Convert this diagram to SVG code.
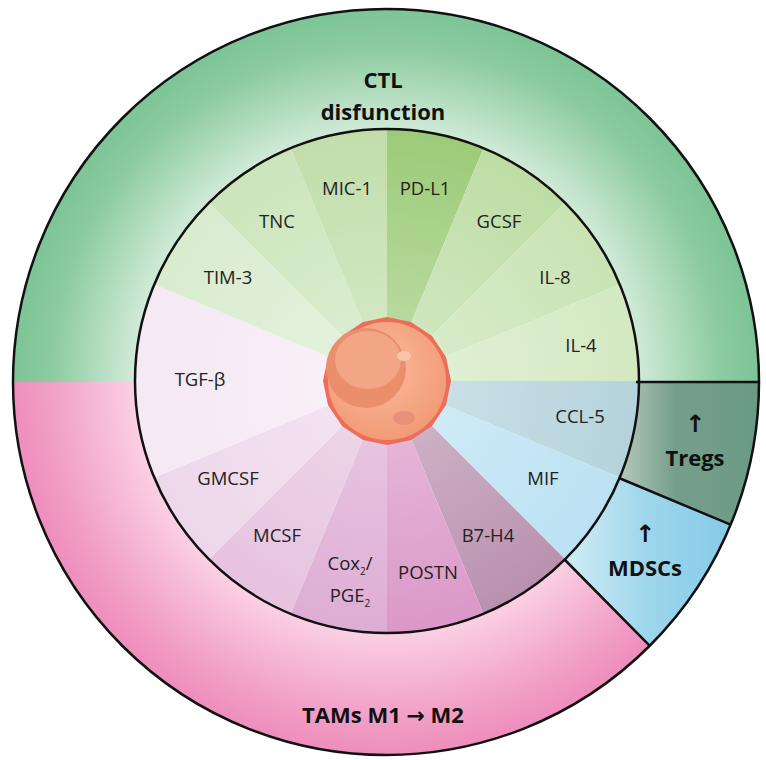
<svg xmlns="http://www.w3.org/2000/svg" width="766" height="760" viewBox="0 0 766 760">
<defs>
<radialGradient id="gG" cx="386" cy="382" r="373" gradientUnits="userSpaceOnUse"><stop offset="0.67" stop-color="#d2ebd9"/><stop offset="0.9" stop-color="#8ccb9f"/><stop offset="1" stop-color="#7cc496"/></radialGradient>
<radialGradient id="gP" cx="386" cy="382" r="373" gradientUnits="userSpaceOnUse"><stop offset="0.67" stop-color="#fbd0e4"/><stop offset="0.9" stop-color="#f19fc6"/><stop offset="1" stop-color="#ee8dbc"/></radialGradient>
<linearGradient id="gT" x1="0" y1="0" x2="1" y2="0"><stop offset="0" stop-color="#b7c8bb"/><stop offset="0.4" stop-color="#759f8c"/><stop offset="1" stop-color="#6a9a85"/></linearGradient>
<linearGradient id="gM" x1="0" y1="0" x2="1" y2="0"><stop offset="0" stop-color="#d2ecf5"/><stop offset="0.5" stop-color="#9dd6ec"/><stop offset="1" stop-color="#86cbe6"/></linearGradient>
<radialGradient id="hi" cx="387" cy="381" r="252" gradientUnits="userSpaceOnUse"><stop offset="0.2" stop-color="#fff" stop-opacity="0.3"/><stop offset="1" stop-color="#fff" stop-opacity="0"/></radialGradient>
<radialGradient id="cell" cx="0.45" cy="0.4" r="0.6"><stop offset="0" stop-color="#f9bb9c"/><stop offset="1" stop-color="#f39b77"/></radialGradient>
</defs>
<style>
.l{font-family:"Open Sans","Liberation Sans",sans-serif;font-size:18.5px;fill:#222;text-anchor:middle}
.t{font-family:"Open Sans","Liberation Sans",sans-serif;font-size:22px;font-weight:bold;fill:#111;text-anchor:middle}
.a{font-family:"DejaVu Sans",sans-serif;font-size:24px;font-weight:bold;fill:#111;text-anchor:middle}
.s{stroke:#111;stroke-width:2.5;fill:none}
</style>
<g id="outer-ring">
<path d="M13,382 A373,373 0 0 1 759,382 L639,382 A252,252 0 0 0 135,382 Z" fill="url(#gG)"/>
<path id="tams" d="M13,382 A373,373 0 0 0 649.8,645.8 L565.2,560.2 A252,252 0 0 1 135,382 Z" fill="url(#gP)"/>
<path id="tregs" d="M759,382 A373,373 0 0 1 730.6,524.7 L618.8,478.4 A252,252 0 0 0 639,382 Z" fill="url(#gT)"/>
<path id="mdscs" d="M730.6,524.7 A373,373 0 0 1 649.8,645.8 L564.2,560.2 A252,252 0 0 0 618.8,478.4 Z" fill="url(#gM)"/>
</g>
<g id="wedges">
<path d="M387,381 L387,129 A252,252 0 0 1 483.4,148.2 Z" fill="#9ccb78"/>
<path d="M387,381 L483.4,148.2 A252,252 0 0 1 565.2,202.8 Z" fill="#bedda5"/>
<path d="M387,381 L565.2,202.8 A252,252 0 0 1 619.8,284.6 Z" fill="#c9e3b4"/>
<path d="M387,381 L619.8,284.6 A252,252 0 0 1 639,381 Z" fill="#d3e9c2"/>
<path d="M387,381 L639,381 A252,252 0 0 1 619.8,477.4 Z" fill="#b5d3dc"/>
<path d="M387,381 L619.8,477.4 A252,252 0 0 1 565.2,559.2 Z" fill="#bbe2f3"/>
<path d="M387,381 L565.2,559.2 A252,252 0 0 1 483.4,613.8 Z" fill="#b991af"/>
<path d="M387,381 L483.4,613.8 A252,252 0 0 1 387,633 Z" fill="#db98c8"/>
<path d="M387,381 L387,633 A252,252 0 0 1 290.6,613.8 Z" fill="#deadd5"/>
<path d="M387,381 L290.6,613.8 A252,252 0 0 1 208.8,559.2 Z" fill="#e6c3df"/>
<path d="M387,381 L208.8,559.2 A252,252 0 0 1 154.2,477.4 Z" fill="#eed7eb"/>
<path d="M387,381 L154.2,477.4 A252,252 0 0 1 154.2,284.6 Z" fill="#f5e9f4"/>
<path d="M387,381 L154.2,284.6 A252,252 0 0 1 208.8,202.8 Z" fill="#d9ecce"/>
<path d="M387,381 L208.8,202.8 A252,252 0 0 1 290.6,148.2 Z" fill="#cce5bb"/>
<path d="M387,381 L290.6,148.2 A252,252 0 0 1 387,129 Z" fill="#c1deaa"/>
<circle cx="387" cy="381" r="252" fill="url(#hi)"/>
</g>
<g id="connectors">
<circle cx="386" cy="382" r="373" class="s"/>
<circle cx="387" cy="381" r="252" class="s"/>
<line x1="636" y1="382" x2="759" y2="382" class="s"/>
<line x1="619" y1="478" x2="730.6" y2="524.7" class="s"/>
<line x1="565" y1="560" x2="649.8" y2="645.8" class="s"/>
</g>
<g id="cell">
<polygon points="387,317 411,322 432,336 446,357 451,381 446,405 432,426 411,440 387,445 363,440 342,426 328,405 323,381 328,357 342,336 363,322" fill="#ec6e5a"/>
<circle cx="387" cy="381" r="59" fill="url(#cell)"/>
<circle cx="366" cy="368" r="40" fill="#ea8e6c"/>
<ellipse cx="368" cy="360" rx="33" ry="29" fill="#f2a686"/>
<ellipse cx="404" cy="356" rx="7" ry="5" fill="#f9c6ad"/>
<ellipse cx="404" cy="418" rx="11" ry="7" fill="#e8907a"/>
</g>
<g id="labels">
<text class="l" x="347" y="195">MIC-1</text>
<text class="l" x="425" y="195">PD-L1</text>
<text class="l" x="277" y="228">TNC</text>
<text class="l" x="499" y="228">GCSF</text>
<text class="l" x="228" y="284">TIM-3</text>
<text class="l" x="555" y="284">IL-8</text>
<text class="l" x="581" y="352">IL-4</text>
<text class="l" x="200" y="386">TGF-β</text>
<text class="l" x="580" y="423">CCL-5</text>
<text class="l" x="228" y="485">GMCSF</text>
<text class="l" x="543" y="485">MIF</text>
<text class="l" x="277" y="542">MCSF</text>
<text class="l" x="488" y="542">B7-H4</text>
<text class="l" x="350" y="570">Cox<tspan font-size="10" dy="5">2</tspan><tspan dy="-5">/</tspan></text>
<text class="l" x="350" y="602">PGE<tspan font-size="10" dy="5">2</tspan></text>
<text class="l" x="428" y="579">POSTN</text>
</g>
<g id="titles">
<text class="t" x="383" y="88">CTL</text>
<text class="t" x="383" y="120">disfunction</text>
<text class="t" x="383" y="723">TAMs M1 <tspan font-family="DejaVu Sans">→</tspan> M2</text>
<text class="a" x="695" y="432">↑</text>
<text class="t" x="695" y="466">Tregs</text>
<text class="a" x="645" y="542">↑</text>
<text class="t" x="645" y="576">MDSCs</text>
</g>
</svg>
